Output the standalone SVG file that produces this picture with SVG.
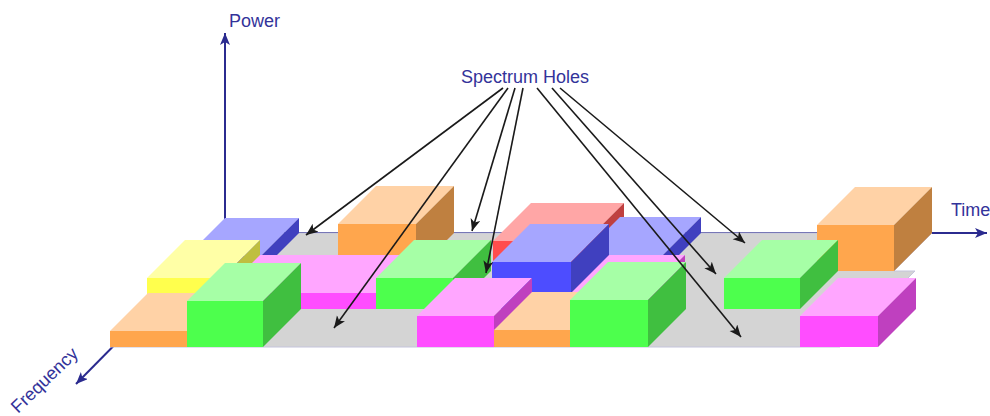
<svg xmlns="http://www.w3.org/2000/svg" width="990" height="416" viewBox="0 0 990 416">
<style>
.lbl{font-family:"Liberation Sans",Arial,sans-serif;font-size:18px;fill:#33339a}
.axis{stroke:#2b2b8f;stroke-width:2;fill:none}
.arr{stroke:#1a1a1a;stroke-width:1.6;fill:none;marker-end:url(#ah)}
.gT{fill:#a6ffa6}.gF{fill:#4dff4d}.gS{fill:#40bf40}
.mT{fill:#ffa6ff}.mF{fill:#ff4dff}.mS{fill:#bf40bf}
.bT{fill:#a6a6ff}.bF{fill:#4d4dff}.bS{fill:#4040bf}
.oT{fill:#ffd2a6}.oF{fill:#ffa64d}.oS{fill:#bf8040}
.yT{fill:#ffffa6}.yF{fill:#ffff4d}.yS{fill:#bfbf40}
.rT{fill:#ffa6a6}.rF{fill:#ff4d4d}.rS{fill:#bf4040}
</style>
<defs>
<marker id="ah" markerUnits="userSpaceOnUse" markerWidth="14" markerHeight="12" refX="12" refY="5" orient="auto">
<path d="M0,0 L12,5 L0,10 L3,5 Z" fill="#1a1a1a"/>
</marker>
<marker id="axh" markerUnits="userSpaceOnUse" markerWidth="14" markerHeight="12" refX="12" refY="5" orient="auto">
<path d="M0,0 L12,5 L0,10 L3,5 Z" fill="#2b2b8f"/>
</marker>
</defs>
<g id="axes">
<line class="axis" x1="225" y1="233" x2="225" y2="33" marker-end="url(#axh)"/>
<line class="axis" x1="225" y1="233" x2="987" y2="233" marker-end="url(#axh)"/>
<line class="axis" x1="225" y1="233" x2="76" y2="384" marker-end="url(#axh)"/>
</g>
<g id="floor">
<polygon points="225,233 932,233 894,271 915,271 877,309 840,347 111,347" fill="#d4d4d4" stroke="#c4c4dc" stroke-width="1"/>
</g>
<g id="back-row">
<g id="blue-l"><rect class="bF" x="187" y="256" width="74" height="15"/><polygon class="bT" points="187,256 261,256 299,218 225,218"/><polygon class="bS" points="261,256 299,218 299,233 261,271"/></g>
<g id="orange-b"><rect class="oF" x="338" y="224" width="78" height="47"/><polygon class="oT" points="338,224 416,224 454,186 376,186"/><polygon class="oS" points="416,224 454,186 454,233 416,271"/></g>
<g id="red"><rect class="rF" x="493" y="241" width="93" height="30"/><polygon class="rT" points="493,241 586,241 624,203 531,203"/><polygon class="rS" points="586,241 624,203 624,233 586,271"/></g>
<g id="blue-b2"><rect class="bF" x="582" y="255" width="81" height="16"/><polygon class="bT" points="582,255 663,255 701,217 620,217"/><polygon class="bS" points="663,255 701,217 701,233 663,271"/></g>
<g id="orange-r"><rect class="oF" x="817" y="225" width="77" height="46"/><polygon class="oT" points="817,225 894,225 932,187 855,187"/><polygon class="oS" points="894,225 932,187 932,233 894,271"/></g>
</g>
<g id="middle-row">
<g id="yellow"><rect class="yF" x="147" y="278" width="75" height="31"/><polygon class="yT" points="147,278 222,278 260,240 185,240"/><polygon class="yS" points="222,278 260,240 260,271 222,309"/></g>
<g id="pink-m1"><rect class="mF" x="222" y="293" width="154" height="16"/><polygon class="mT" points="222,293 376,293 414,255 260,255"/><polygon class="mS" points="376,293 414,255 414,271 376,309"/></g>
<g id="green-m"><rect class="gF" x="376" y="278" width="77" height="31"/><polygon class="gT" points="376,278 453,278 491,240 414,240"/><polygon class="gS" points="453,278 491,240 491,271 453,309"/></g>
<g id="blue-m"><rect class="bF" x="492" y="262" width="79" height="47"/><polygon class="bT" points="492,262 571,262 609,224 530,224"/><polygon class="bS" points="571,262 609,224 609,271 571,309"/></g>
<g id="pink-m3"><rect class="mF" x="571" y="293" width="76" height="16"/><polygon class="mT" points="571,293 647,293 685,255 609,255"/><polygon class="mS" points="647,293 685,255 685,271 647,309"/></g>
<g id="green-m2"><rect class="gF" x="724" y="278" width="76" height="31"/><polygon class="gT" points="724,278 800,278 838,240 762,240"/><polygon class="gS" points="800,278 838,240 838,271 800,309"/></g>
</g>
<g id="front-row">
<g id="peach-f1"><rect class="oF" x="110" y="331" width="77" height="16"/><polygon class="oT" points="110,331 187,331 225,293 148,293"/></g>
<g id="green-f1"><rect class="gF" x="187" y="301" width="76" height="46"/><polygon class="gT" points="187,301 263,301 301,263 225,263"/><polygon class="gS" points="263,301 301,263 301,309 263,347"/></g>
<g id="magenta-f"><rect class="mF" x="417" y="316" width="77" height="31"/><polygon class="mT" points="417,316 494,316 532,278 455,278"/><polygon class="mS" points="494,316 532,278 532,309 494,347"/></g>
<g id="peach-f2"><rect class="oF" x="494" y="330" width="76" height="17"/><polygon class="oT" points="494,330 570,330 608,292 532,292"/></g>
<g id="green-f2"><rect class="gF" x="570" y="300" width="78" height="47"/><polygon class="gT" points="570,300 648,300 686,262 608,262"/><polygon class="gS" points="648,300 686,262 686,309 648,347"/></g>
<g id="magenta-f2"><rect class="mF" x="800" y="316" width="78" height="31"/><polygon class="mT" points="800,316 878,316 916,278 838,278"/><polygon class="mS" points="878,316 916,278 916,309 878,347"/></g>
</g>
<g id="connectors">
<line class="arr" x1="503" y1="88" x2="306" y2="235"/>
<line class="arr" x1="508" y1="88" x2="334" y2="328"/>
<line class="arr" x1="515" y1="88" x2="472" y2="231"/>
<line class="arr" x1="523" y1="88" x2="486" y2="273"/>
<line class="arr" x1="537" y1="88" x2="741" y2="337"/>
<line class="arr" x1="552" y1="88" x2="716" y2="274"/>
<line class="arr" x1="560" y1="88" x2="745" y2="243"/>
</g>
<g id="labels">
<text class="lbl" x="229" y="27">Power</text>
<text class="lbl" x="461" y="83">Spectrum Holes</text>
<text class="lbl" x="951" y="216">Time</text>
<text class="lbl" transform="translate(18,414) rotate(-44)">Frequency</text>
</g>
</svg>
